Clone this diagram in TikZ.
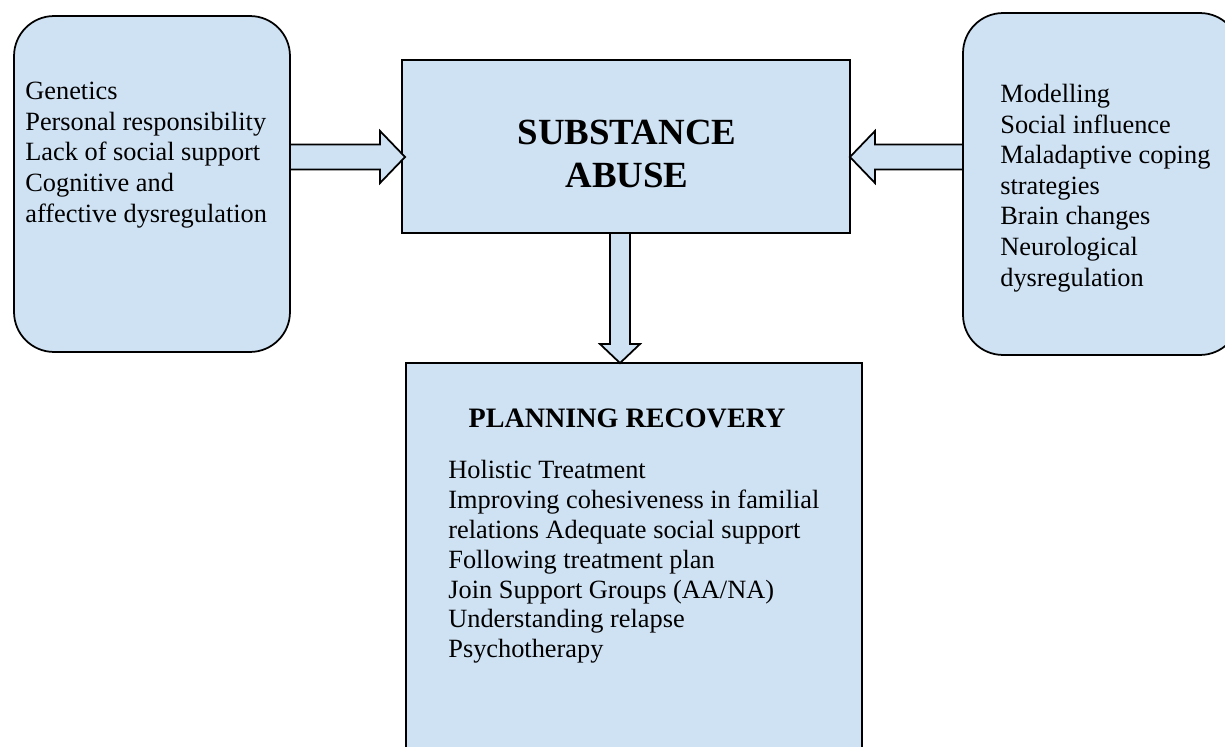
\documentclass[tikz,border=0pt]{standalone}
\usepackage{fontspec}
\setmainfont{Liberation Serif}
\usetikzlibrary{calc,positioning}
\definecolor{boxblue}{RGB}{207,226,243}
\tikzset{
  box/.style={draw=black, line width=1pt, fill=boxblue, inner sep=0pt, outer sep=0pt},
  roundbox/.style={box, rounded corners=0.8cm},
  listtext/.style={anchor=north west, inner sep=0pt, align=left, font=\fontsize{15}{17.4}\selectfont},
  headtext/.style={inner sep=0pt, align=center, font=\fontsize{21}{24.4}\selectfont\bfseries},
  arrowbody/.style={draw=black, line width=1pt, fill=boxblue, line join=miter},
}
% block arrow: from, to, shaft half-width, head half-width, head length
\newcommand{\fatarrow}[5]{
  \coordinate (hb) at ($(#2)!#5!(#1)$);
  \draw[arrowbody] ($(#1)!#3!90:(#2)$) -- ($(hb)!#3!90:(#2)$) -- ($(hb)!#4!90:(#2)$) -- (#2)
    -- ($(hb)!#4!-90:(#2)$) -- ($(hb)!#3!-90:(#2)$) -- ($(#1)!#3!-90:(#2)$) -- cycle;
}

\begin{document}
\begin{tikzpicture}[x=0.02cm, y=-0.02cm]
    \useasboundingbox (0,0) rectangle (1225,747);
    \clip (0,0) rectangle (1225,747);
    % boxes
    \node[roundbox, minimum width=5.52cm, minimum height=6.72cm] (causes) at (152,184) {};
    \node[box, minimum width=8.96cm, minimum height=3.46cm] (abuse) at (626,146.5) {};
    \node[roundbox, minimum width=5.54cm, minimum height=6.84cm] (triggers) at (1101.5,184) {};
    \node[box, minimum width=9.12cm, minimum height=8.14cm] (recovery) at (634,566.5) {};
    % texts
    \node[listtext] (causelist) at (25,82) {Genetics\\Personal responsibility\\Lack of social support\\Cognitive and\\affective dysregulation};
    \node[headtext] (abusetitle) at (627,154) {SUBSTANCE\\ABUSE};
    \node[listtext] (triggerlist) at (1000,84) {Modelling\\Social influence\\Maladaptive coping\\strategies\\Brain changes\\Neurological\\dysregulation};
    \node[inner sep=0pt, anchor=base, font=\fontsize{16}{19}\selectfont\bfseries] (recoverytitle) at (627,427) {PLANNING RECOVERY};
    \node[listtext, font=\fontsize{15}{17}\selectfont] (steplist) at (448,460) {Holistic Treatment\\Improving cohesiveness in familial\\relations Adequate social support\\Following treatment plan\\Join Support Groups (AA/NA)\\Understanding relapse\\Psychotherapy};
    % arrows
    \coordinate (lfrom) at ($(causes.east)+(0,-27)$);
    \coordinate (lto) at ($(abuse.west |- lfrom)+(3,0)$);
    \coordinate (rfrom) at ($(triggers.west)+(0,-27)$);
    \coordinate (rto) at (abuse.east |- rfrom);
    \coordinate (dfrom) at ($(abuse.south)+(-6,0)$);
    \coordinate (dto) at (dfrom |- recovery.north);
    \fatarrow{lfrom}{lto}{0.25cm}{0.52cm}{0.5cm}
    \fatarrow{rfrom}{rto}{0.25cm}{0.52cm}{0.5cm}
    \fatarrow{dfrom}{dto}{0.2cm}{0.4cm}{0.38cm}
\end{tikzpicture}
\end{document}
